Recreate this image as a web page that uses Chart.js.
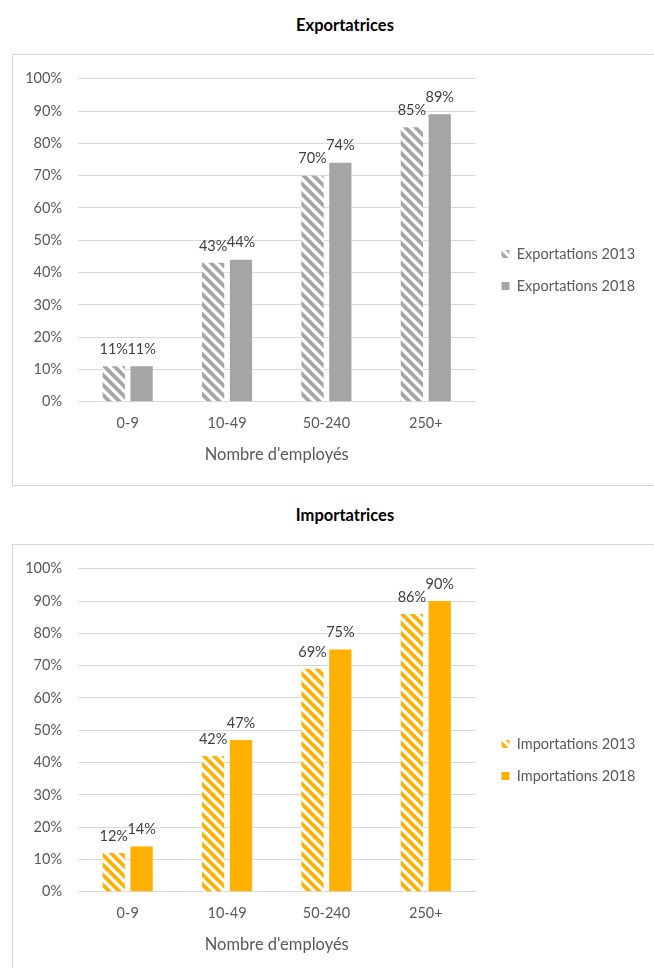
<!DOCTYPE html>
<html>
<head>
<meta charset="utf-8">
<script src="https://cdn.jsdelivr.net/npm/chart.js@4"></script>
<style>
  html, body { margin: 0; padding: 0; background: #fff; overflow: hidden; }
  body { width: 654px; height: 968px; position: relative; font-family: Lato, sans-serif; }
  .title { position: absolute; left: 18px; width: 654px; text-align: center; font-weight: bold; font-size: 16.5px; line-height: 18px; color: #000; }
  .box { position: absolute; left: 12px; width: 664px; height: 432px; border: 1.5px solid #d9d9d9; box-sizing: border-box; }
  canvas { position: absolute; left: 12px; }
</style>
</head>
<body>
<div class="title" style="top:16px">Exportatrices</div>
<div class="box" style="top:54px"></div>
<canvas id="expChart" width="654" height="432" style="top:54px"></canvas>

<div class="title" style="top:506px">Importatrices</div>
<div class="box" style="top:544px"></div>
<canvas id="impChart" width="654" height="432" style="top:544px"></canvas>

<script>
// données
const categories = ["0-9", "10-49", "50-240", "250+"];
const exports2013 = [11, 43, 70, 85];
const exports2018 = [11, 44, 74, 89];
const imports2013 = [12, 42, 69, 86];
const imports2018 = [14, 47, 75, 90];
const yTickValues = [0, 10, 20, 30, 40, 50, 60, 70, 80, 90, 100];
const axisTitle = "Nombre d'employés";

Chart.defaults.font.family = "Lato, sans-serif";
Chart.defaults.color = "#595959";

// motif hachuré "\" pour 2013
function hatch(color) {
  const s = 10;
  const c = document.createElement("canvas");
  c.width = s;
  c.height = s;
  const g = c.getContext("2d");
  g.fillStyle = "#fff";
  g.fillRect(0, 0, s, s);
  g.strokeStyle = color;
  g.lineWidth = 3.8;
  for (let k = -s; k <= s; k += s) {
    g.beginPath();
    g.moveTo(k - 2, -2);
    g.lineTo(k + s + 2, s + 2);
    g.stroke();
  }
  return g.createPattern(c, "repeat");
}

// étiquettes de valeur au-dessus des barres
const valueLabels = {
  id: "valueLabels",
  afterDatasetsDraw(chart) {
    const ctx = chart.ctx;
    ctx.save();
    ctx.font = "14.5px Lato, sans-serif";
    ctx.fillStyle = "#404040";
    ctx.textAlign = "center";
    ctx.textBaseline = "middle";
    chart.data.datasets.forEach((ds, i) => {
      chart.getDatasetMeta(i).data.forEach((bar, j) => {
        ctx.fillText(ds.data[j] + "%", bar.x, bar.y - 17);
      });
    });
    ctx.restore();
  },
};

// décale un peu la légende vers la droite
const legendShift = {
  id: "legendShift",
  afterLayout(chart) {
    const lg = chart.legend;
    lg.left += 8.5;
    lg.right += 8.5;
  },
};

function makeChart(id, name, color, data2013, data2018) {
  const ctx = document.getElementById(id).getContext("2d");
  return new Chart(ctx, {
    type: "bar",
    data: {
      labels: categories,
      datasets: [
        {
          label: name + " 2013",
          data: data2013,
          backgroundColor: hatch(color),
          borderWidth: 0,
          categoryPercentage: 0.56,
          barPercentage: 0.8,
        },
        {
          label: name + " 2018",
          data: data2018,
          backgroundColor: color,
          borderWidth: 0,
          categoryPercentage: 0.56,
          barPercentage: 0.8,
        },
      ],
    },
    options: {
      responsive: false,
      animation: false,
      layout: { padding: { top: 21, bottom: 21, left: 0, right: 36 } },
      scales: {
        x: {
          grid: { display: false, drawTicks: false },
          border: { color: "#d9d9d9" },
          ticks: { padding: 13, font: { size: 14.5 }, color: "#595959" },
          title: {
            display: true,
            text: axisTitle,
            color: "#595959",
            font: { size: 16.5 },
            padding: { top: 0, bottom: 0 },
          },
        },
        y: {
          min: 0,
          max: 100,
          afterBuildTicks(scale) {
            scale.ticks = yTickValues.map((v) => ({ value: v }));
          },
          afterFit(scale) {
            scale.width = 66;
          },
          grid: { color: "#d9d9d9", drawTicks: false },
          border: { display: false },
          ticks: {
            padding: 16,
            font: { size: 14.5 },
            color: "#595959",
            callback: (v) => v + "%",
          },
        },
      },
      plugins: {
        title: { display: false },
        tooltip: { enabled: false },
        legend: {
          position: "right",
          labels: {
            boxWidth: 8,
            boxHeight: 8,
            padding: 17.5,
            color: "#595959",
            font: { size: 14.5 },
          },
        },
      },
    },
    plugins: [valueLabels, legendShift],
  });
}

makeChart("expChart", "Exportations", "#a5a5a5", exports2013, exports2018);
makeChart("impChart", "Importations", "#ffb000", imports2013, imports2018);
</script>
</body>
</html>
